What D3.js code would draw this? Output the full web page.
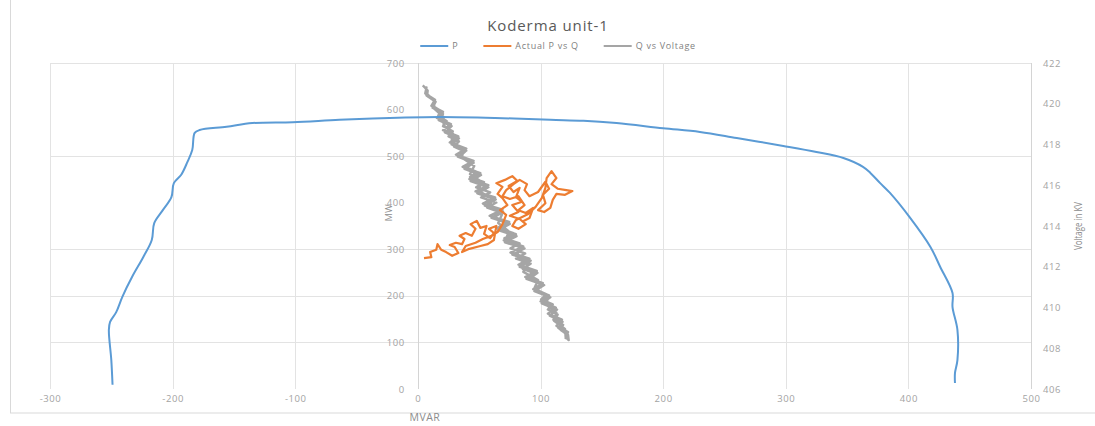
<!DOCTYPE html>
<html>
<head>
<meta charset="utf-8">
<script src="https://cdn.jsdelivr.net/npm/d3@7"></script>
<style>
  html, body { margin: 0; padding: 0; background: #fff; }
  svg { display: block; font-family: "Open Sans", "Liberation Sans", sans-serif; }
</style>
</head>
<body>
<svg id="chart" width="1095" height="426"></svg>
<script>
// Axis ticks
const qTicks = [-300, -200, -100, 0, 100, 200, 300, 400, 500];
const mwTicks = [0, 100, 200, 300, 400, 500, 600, 700];
const kvTicks = [406, 408, 410, 412, 414, 416, 418, 420, 422];
const mwGrid = [700, 500, 300, 200, 100];

// Series "P": capability curve (MVAR, MW)
const capQ = [-249, -250, -252, -251, -246, -241, -233, -224, -217, -215, -208, -201, -199, -193, -188, -184,
  -182, -178, -156, -135, -102, -64, -23, 18, 63, 108, 135, 162, 200, 230, 260, 298, 325, 347, 363, 369,
  377, 385, 401, 418, 426, 436, 436, 440, 440, 438, 438];
const capP = [9, 62, 127, 144, 165, 198, 241, 283, 320, 356, 384, 412, 442, 460, 487, 513,
  550, 556, 563, 571, 573, 578, 582, 584, 582, 578, 576, 571, 560, 552, 539, 522, 509, 496, 477, 464,
  442, 421, 369, 305, 262, 206, 176, 127, 62, 34, 13];

// Series "Actual P vs Q" (MVAR, MW)
const actQ = [5, 11, 10, 15, 16, 19, 23, 28, 33, 30, 26, 31, 36, 38, 34, 39, 44, 47, 43, 48, 51, 56, 54, 59,
  62, 58, 64, 62, 57, 51, 42, 36, 39, 47, 53, 60, 65, 69, 72, 67, 73, 69, 65, 69, 64, 71, 77, 81, 74, 78,
  83, 80, 85, 77, 82, 75, 83, 88, 82, 77, 80, 90, 96, 101, 104, 105, 109, 113, 109, 114, 121, 126, 120,
  113, 110, 108, 103, 98, 104, 102, 107, 104,
  98, 91, 87, 89, 83, 78, 72, 69, 75, 82, 87, 82, 88, 94, 91, 85];
const actP = [281, 283, 294, 299, 311, 299, 294, 286, 292, 305, 309, 314, 311, 322, 329, 335, 329, 344, 354,
  361, 346, 350, 333, 324, 335, 344, 350, 320, 311, 307, 301, 294, 307, 314, 322, 329, 337, 354, 374, 384,
  395, 410, 419, 434, 442, 449, 457, 447, 436, 423, 432, 412, 402, 395, 380, 372, 365, 354, 344, 350, 363,
  376, 391, 410, 432, 453, 468, 453, 440, 430, 427, 425, 417, 419, 406, 389, 380, 384, 399, 417, 430, 445,
  423, 414, 427, 440, 449, 440, 427, 414, 408, 414, 395, 384, 378, 389, 367, 359];

// Series "Q vs Voltage" (MVAR, kV)
const voltQ = [4, 8, 7.5, 13.5, 12, 18.5, 16.5, 23.5, 20.5, 28.5, 25, 33.5, 29.5, 38.5, 34, 44, 38.5, 48.5,
  42.5, 54, 47.5, 59, 51.5, 64, 56.5, 68.5, 61, 73.5, 66, 78, 70.5, 83, 75.5, 87.5, 80, 92, 85.5, 96.5,
  90.5, 101, 95.5, 105, 100.5, 110, 106, 114, 110.5, 118.5, 116.5, 122.5, 123,
  120.5, 120, 111, 113, 104.5, 106.5, 95, 98, 86, 89.5, 80.5, 84, 72, 74, 65.5, 68.5, 59, 60, 49, 52.5,
  42.5, 46, 36, 37, 27.5, 28.5, 21, 21, 13.5, 13, 6.5,
  7, 6, 14, 11, 20.5, 15.5, 27, 20.5, 33, 26, 39.5, 31, 45.5, 36.5, 51, 42, 57.5, 47, 63, 53, 69, 58.5,
  74.5, 64.5, 80, 70, 86, 75.5, 91, 82, 97, 87.5, 102, 94, 107, 100, 112.5, 106, 117.5, 113, 122.5, 120.5,
  121, 114.5, 118, 107.5, 113.5, 101, 108, 95, 103, 88.5, 97.5, 83, 92, 77, 87, 71, 80.5, 65.5, 75, 60,
  69.5, 54.5, 63.5, 48.5, 57.5, 43, 51.5, 38, 45.5, 32.5, 39.5, 27.5, 33.5, 22, 27.5, 17, 20.5, 12, 14.5,
  7, 7];
const voltV = [420.9, 420.65, 420.4, 420.15, 419.9, 419.65, 419.4, 419.15, 418.9, 418.65, 418.4, 418.15,
  417.9, 417.65, 417.4, 417.15, 416.9, 416.65, 416.4, 416.15, 415.9, 415.65, 415.4, 415.15, 414.9, 414.65,
  414.4, 414.15, 413.9, 413.65, 413.4, 413.15, 412.9, 412.65, 412.4, 412.15, 411.9, 411.65, 411.4, 411.15,
  410.9, 410.65, 410.4, 410.15, 409.9, 409.65, 409.4, 409.15, 408.9, 408.65, 408.4,
  408.55, 408.95, 409.35, 409.75, 410.15, 410.55, 410.95, 411.35, 411.75, 412.15, 412.55, 412.95, 413.35,
  413.75, 414.15, 414.55, 414.95, 415.35, 415.75, 416.15, 416.55, 416.95, 417.35, 417.75, 418.15, 418.55,
  418.95, 419.35, 419.75, 420.15, 420.55,
  420.8, 420.5, 420.2, 419.9, 419.6, 419.3, 419.0, 418.7, 418.4, 418.1, 417.8, 417.5, 417.2, 416.9, 416.6,
  416.3, 416.0, 415.7, 415.4, 415.1, 414.8, 414.5, 414.2, 413.9, 413.6, 413.3, 413.0, 412.7, 412.4, 412.1,
  411.8, 411.5, 411.2, 410.9, 410.6, 410.3, 410.0, 409.7, 409.4, 409.1, 408.8, 408.5,
  408.7, 409.0, 409.3, 409.6, 409.9, 410.2, 410.5, 410.8, 411.1, 411.4, 411.7, 412.0, 412.3, 412.6, 412.9,
  413.2, 413.5, 413.8, 414.1, 414.4, 414.7, 415.0, 415.3, 415.6, 415.9, 416.2, 416.5, 416.8, 417.1, 417.4,
  417.7, 418.0, 418.3, 418.6, 418.9, 419.2, 419.5, 419.8, 420.1, 420.4, 420.7];

const seriesNames = ["P", "Actual P vs Q", "Q vs Voltage"];
const seriesColors = ["#5B9BD5", "#ED7D31", "#A5A5A5"];

const svg = d3.select("#chart");
const W = 1095, H = 426;
const plot = { left: 50, right: 1031, top: 63, bottom: 389 };

const x = d3.scaleLinear().domain([-300, 500]).range([plot.left, plot.right]);
const yMW = d3.scaleLinear().domain([0, 700]).range([plot.bottom, plot.top]);
const yKV = d3.scaleLinear().domain([406, 422]).range([plot.bottom, plot.top]);

// chart area border
svg.append("rect").attr("x", 10.5).attr("y", -2).attr("width", W).attr("height", 415)
  .attr("fill", "#fff").attr("stroke", "#d9d9d9").attr("stroke-width", 1);

// gridlines
const grid = svg.append("g").attr("stroke", "#e3e3e3").attr("stroke-width", 1);
grid.selectAll("line.v").data(qTicks).join("line").attr("class", "v")
  .attr("x1", d => Math.round(x(d)) + 0.5).attr("x2", d => Math.round(x(d)) + 0.5)
  .attr("y1", plot.top).attr("y2", plot.bottom);
grid.selectAll("line.h").data(mwGrid).join("line").attr("class", "h")
  .attr("x1", plot.left).attr("x2", plot.right)
  .attr("y1", d => Math.round(yMW(d)) + 0.5).attr("y2", d => Math.round(yMW(d)) + 0.5);

// axes (plain hyphen for negative numbers)
const tickColor = "#a3a3a3";
const plain = d => String(d);
function styleAxis(g) {
  g.select(".domain").remove();
  g.selectAll(".tick line").remove();
  g.selectAll(".tick text").attr("fill", tickColor).attr("font-size", 9.5)
    .attr("font-family", "Open Sans, sans-serif").attr("letter-spacing", 0.6);
}

svg.append("g").attr("transform", `translate(0,${plot.bottom})`)
  .call(d3.axisBottom(x).tickValues(qTicks).tickFormat(plain).tickSize(0).tickPadding(6))
  .call(styleAxis);

svg.append("g").attr("transform", `translate(${x(0)},0)`)
  .call(d3.axisLeft(yMW).tickValues(mwTicks).tickFormat(plain).tickSize(0).tickPadding(13))
  .call(styleAxis);
svg.append("line").attr("x1", Math.round(x(0)) + 0.5).attr("x2", Math.round(x(0)) + 0.5)
  .attr("y1", plot.top).attr("y2", plot.bottom).attr("stroke", "#d4d4d4");

svg.append("g").attr("transform", `translate(${plot.right},0)`)
  .call(d3.axisRight(yKV).tickValues(kvTicks).tickFormat(plain).tickSize(0).tickPadding(12))
  .call(styleAxis);
svg.append("line").attr("x1", plot.right + 0.5).attr("x2", plot.right + 0.5)
  .attr("y1", plot.top).attr("y2", plot.bottom).attr("stroke", "#d4d4d4");

// axis titles
svg.append("text").attr("x", x(0) + 7).attr("y", 421).attr("text-anchor", "middle")
  .attr("font-size", 10.5).attr("fill", "#8c8c8c").attr("letter-spacing", 0.5).text("MVAR");
svg.append("text").attr("transform", `translate(392,${yMW(378)}) rotate(-90)`).attr("text-anchor", "middle")
  .attr("font-size", 9.5).attr("fill", "#8c8c8c").text("MW");
svg.append("text").attr("transform", `translate(1082,${yKV(414)}) rotate(-90)`).attr("text-anchor", "middle")
  .attr("font-size", 10).attr("fill", "#8c8c8c")
  .attr("textLength", 48).attr("lengthAdjust", "spacingAndGlyphs").text("Voltage in KV");

// series: voltage trace sits behind the MW series
const lineKV = d3.line().x(d => x(d[0])).y(d => yKV(d[1]));
const lineRaw = d3.line().x(d => x(d[0])).y(d => yMW(d[1]));
const lineSmooth = d3.line().x(d => x(d[0])).y(d => yMW(d[1])).curve(d3.curveCatmullRom);

svg.append("path").datum(d3.zip(voltQ, voltV)).attr("d", lineKV)
  .attr("fill", "none").attr("stroke", seriesColors[2]).attr("stroke-width", 2.4)
  .attr("stroke-linejoin", "round");

svg.append("path").datum(d3.zip(capQ, capP)).attr("d", lineSmooth)
  .attr("fill", "none").attr("stroke", seriesColors[0]).attr("stroke-width", 2)
  .attr("stroke-linejoin", "round");

svg.append("path").datum(d3.zip(actQ, actP)).attr("d", lineRaw)
  .attr("fill", "none").attr("stroke", seriesColors[1]).attr("stroke-width", 2.2)
  .attr("stroke-linejoin", "round");

// title
svg.append("text").attr("x", 548).attr("y", 31).attr("text-anchor", "middle")
  .attr("font-size", 15).attr("fill", "#595959").attr("letter-spacing", 0.9).text("Koderma unit-1");

// legend
const legend = svg.append("g").attr("transform", "translate(0,46)");
const items = legend.selectAll("g").data(seriesNames).join("g");
items.append("line").attr("x1", 0).attr("x2", 28).attr("y1", 0).attr("y2", 0)
  .attr("stroke", (d, i) => seriesColors[i]).attr("stroke-width", 2);
items.append("text").attr("x", 32).attr("y", 3.2).attr("font-size", 9).attr("fill", "#7f7f7f")
  .attr("letter-spacing", 0.7).text(d => d);
const widths = [];
items.each(function () { widths.push(this.getBBox().width); });
const gap = 25;
const total = d3.sum(widths) + gap * (widths.length - 1);
let cx = 558 - total / 2;
items.attr("transform", (d, i) => {
  const t = `translate(${cx},0)`;
  cx += widths[i] + gap;
  return t;
});
</script>
</body>
</html>
